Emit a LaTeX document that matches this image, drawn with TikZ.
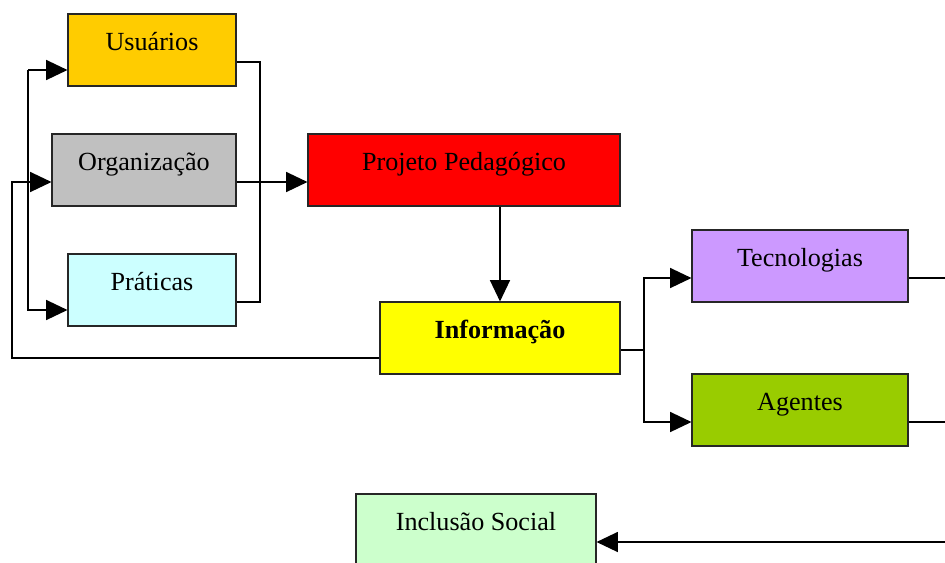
\documentclass[tikz,border=0pt]{standalone}
\usepackage{fontspec}
\setmainfont{Liberation Serif}
\usetikzlibrary{arrows.meta,calc}
\definecolor{corUsu}{HTML}{FFCC00}
\definecolor{corOrg}{HTML}{C0C0C0}
\definecolor{corPrat}{HTML}{CCFFFF}
\definecolor{corProj}{HTML}{FF0000}
\definecolor{corInfo}{HTML}{FFFF00}
\definecolor{corTec}{HTML}{CC99FF}
\definecolor{corAg}{HTML}{99CC00}
\definecolor{corIncl}{HTML}{CCFFCC}
\tikzstyle{bloco} = [draw=black!85, line width=0.8pt, rectangle, inner sep=0pt, minimum height=54pt, text height=14pt, text depth=14pt, font=\fontsize{19.6}{22}\selectfont]
\tikzstyle{linha} = [line width=1.1pt]
\tikzstyle{seta} = [linha, -{Triangle[length=16pt,width=15pt]}]

\begin{document}
\begin{tikzpicture}[x=0.75pt, y=-0.75pt]
    \useasboundingbox (0,0) rectangle (945,562);
    \clip (0,0) rectangle (945,562);
    \node[bloco, fill=corUsu, minimum width=126pt] (usu) at (152,50) {Usuários};
    \node[bloco, fill=corOrg, minimum width=138pt] (org) at (144,170) {Organização};
    \node[bloco, fill=corPrat, minimum width=126pt] (prat) at (152,290) {Práticas};
    \node[bloco, fill=corProj, minimum width=234pt] (proj) at (464,170) {Projeto Pedagógico};
    \node[bloco, fill=corInfo, minimum width=180pt, font=\fontsize{19.6}{22}\selectfont\bfseries] (info) at (500,338) {Informação};
    \node[bloco, fill=corTec, minimum width=162pt] (tec) at (800,266) {Tecnologias};
    \node[bloco, fill=corAg, minimum width=162pt] (ag) at (800,410) {Agentes};
    \node[bloco, fill=corIncl, minimum width=180pt] (incl) at (476,530) {Inclusão Social};
    % pontos de passagem
    \coordinate (dirU) at (260,62);
    \coordinate (dirP) at (260,302);
    \coordinate (esqU) at (28,70);
    \coordinate (esqP) at (28,310);
    \coordinate (volta) at (12,182);
    \coordinate (ramo) at (644,350);
    \coordinate (fimT) at (945,278);
    \coordinate (fimA) at (945,422);
    \coordinate (fimI) at (945,542);
    % ligacoes
    \draw[linha] (usu.east |- dirU) -- (dirU) -- (dirP) -- (prat.east |- dirP);
    \draw[seta] ($(org.east)+(0,12)$) -- ($(proj.west)+(0,12)$);
    \draw[seta] (esqU) -- (usu.west |- esqU);
    \draw[seta] (esqU) -- (esqP) -- (prat.west |- esqP);
    \draw[seta] ($(info.west)+(0,20)$) -| (volta) -- ($(org.west)+(0,12)$);
    \draw[seta] (info.north |- proj.south) -- (info.north);
    \draw[linha] ($(info.east)+(0,12)$) -- (ramo);
    \draw[seta] (ramo) |- ($(tec.west)+(0,12)$);
    \draw[seta] (ramo) |- ($(ag.west)+(0,12)$);
    \draw[linha] ($(tec.east)+(0,12)$) -- (fimT);
    \draw[linha] ($(ag.east)+(0,12)$) -- (fimA);
    \draw[seta] (fimI) -- (incl.east |- fimI);
\end{tikzpicture}
\end{document}
